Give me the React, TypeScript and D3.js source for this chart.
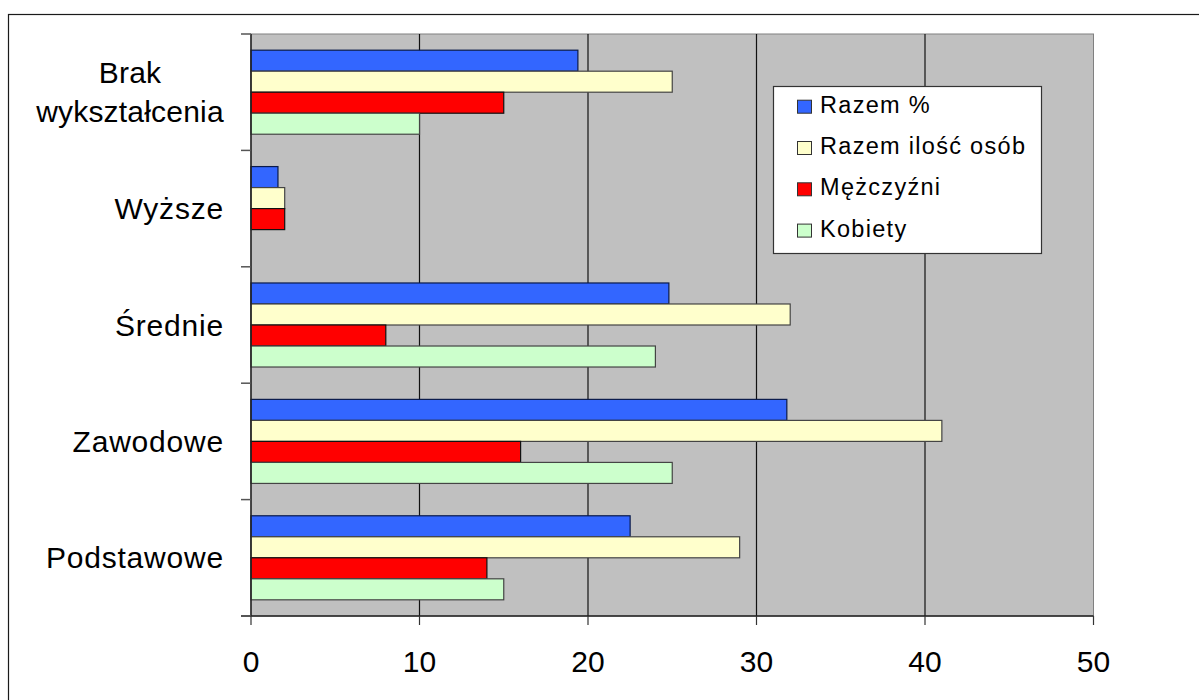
import React from "react";
import * as d3 from "d3";

const categories = ["Brak wykształcenia", "Wyższe", "Średnie", "Zawodowe", "Podstawowe"];
const categoryLines = [["Brak", "wykształcenia"], ["Wyższe"], ["Średnie"], ["Zawodowe"], ["Podstawowe"]];
const seriesNames = ["Razem %", "Razem ilość osób", "Mężczyźni", "Kobiety"];
const razemProc = [19.4, 1.6, 24.8, 31.8, 22.5];
const razemIlosc = [25, 2, 32, 41, 29];
const mezczyzni = [15, 2, 8, 16, 14];
const kobiety = [10, 0, 24, 25, 15];
const seriesColors = ["#3366FF", "#FFFFCC", "#FF0000", "#CCFFCC"];
const xTicks = [0, 10, 20, 30, 40, 50];

const seriesValues = [razemProc, razemIlosc, mezczyzni, kobiety];

const FONT = "'Liberation Sans', Arial, sans-serif";

export default function App() {
  const left = 251, right = 1093.5, top = 34, bottom = 616;
  const x = d3.scaleLinear().domain([0, 50]).range([left, right]);
  const y = d3
    .scaleBand<string>()
    .domain(categories)
    .range([top, bottom])
    .paddingInner(0.278)
    .paddingOuter(0.139);
  const inner = d3.scaleBand<number>().domain([0, 1, 2, 3]).range([0, y.bandwidth()]).padding(0);
  const step = (bottom - top) / categories.length;

  return (
    <svg
      width={1199}
      height={700}
      style={{ position: "absolute", left: 0, top: 0, fontFamily: FONT }}
    >
      <rect x={0} y={0} width={1199} height={700} fill="#fff" />
      <rect x={8.5} y={14.5} width={1300} height={800} fill="#fff" stroke="#1a1a1a" strokeWidth={1.2} />
      {/* plot area */}
      <rect x={left} y={top} width={right - left} height={bottom - top} fill="#C0C0C0" stroke="#808080" strokeWidth={1} />
      {/* gridlines */}
      {xTicks.slice(1, -1).map((t) => (
        <line key={t} x1={x(t)} x2={x(t)} y1={top} y2={bottom} stroke="#111" strokeWidth={1.2} />
      ))}
      {/* bars */}
      {categories.map((c, ci) =>
        seriesValues.map((vals, si) => {
          const v = vals[ci];
          if (v <= 0) return null;
          return (
            <rect
              key={c + si}
              x={x(0)}
              y={(y(c) as number) + (inner(si) as number)}
              width={x(v) - x(0)}
              height={inner.bandwidth()}
              fill={seriesColors[si]}
              stroke={si === 0 ? "#0a1a4a" : si === 2 ? "#111" : "#444"}
              strokeWidth={1.2}
            />
          );
        })
      )}
      {/* axes */}
      <line x1={left} x2={left} y1={top} y2={bottom} stroke="#222" strokeWidth={1.5} />
      <line x1={241} x2={right} y1={bottom} y2={bottom} stroke="#222" strokeWidth={1.5} />
      {d3.range(categories.length + 1).map((i) => (
        <line key={"yt" + i} x1={241} x2={left} y1={top + i * step} y2={top + i * step} stroke="#555" strokeWidth={1.5} />
      ))}
      {xTicks.map((t) => (
        <g key={"xt" + t}>
          <line x1={x(t)} x2={x(t)} y1={bottom} y2={bottom + 9} stroke="#333" strokeWidth={1.2} />
          <text x={x(t)} y={672} textAnchor="middle" fontSize={30} fill="#000">
            {t}
          </text>
        </g>
      ))}
      {/* category labels */}
      {categories.map((c, ci) => {
        const lines = categoryLines[ci];
        const center = top + ci * step + step / 2;
        const lh = 39.4;
        if (lines.length === 1) {
          return (
            <text key={c} x={224} y={center + 10.5} textAnchor="end" fontSize={30} letterSpacing={0.8} fill="#000">
              {lines[0]}
            </text>
          );
        }
        return (
          <text key={c} x={130} textAnchor="middle" fontSize={30} letterSpacing={0.2} fill="#000">
            {lines.map((l, li) => (
              <tspan key={li} x={130} y={center + 10.5 + (li - (lines.length - 1) / 2) * lh}>
                {l}
              </tspan>
            ))}
          </text>
        );
      })}
      {/* legend */}
      <rect x={773.5} y={86.5} width={268} height={167} fill="#fff" stroke="#333" strokeWidth={1.2} />
      {seriesNames.map((n, i) => {
        const base = 112.7 + i * 41.3;
        return (
          <g key={n}>
            <rect x={797.5} y={base - 12.5} width={14} height={13} fill={seriesColors[i]} stroke="#333" strokeWidth={1} />
            <text x={820} y={base} fontSize={23.5} letterSpacing={1.3} fill="#000">
              {n}
            </text>
          </g>
        );
      })}
    </svg>
  );
}
